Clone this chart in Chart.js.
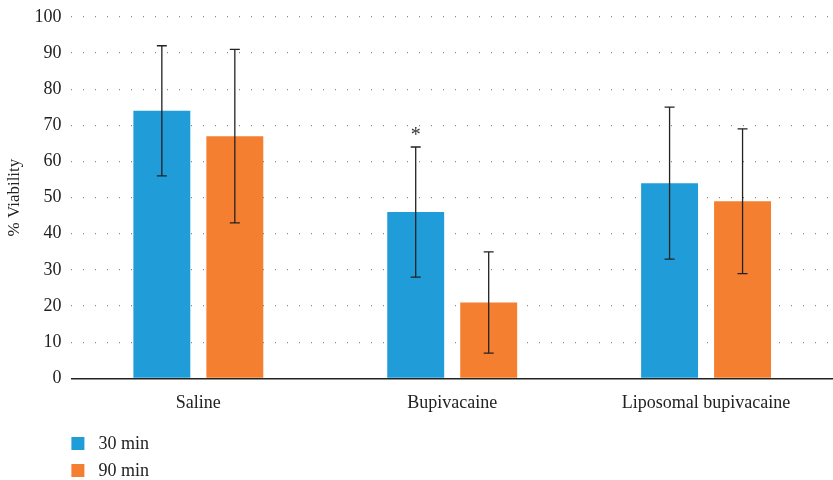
<!DOCTYPE html>
<html>
<head>
<meta charset="utf-8">
<script src="https://cdn.jsdelivr.net/npm/chart.js@4.4.0/dist/chart.umd.min.js"></script>
<style>
  html, body { margin: 0; padding: 0; background: #fff; overflow: hidden; }
  #wrap { width: 833px; height: 484px; margin-top: -4px; }
</style>
</head>
<body>
<div id="wrap"><canvas id="viabilityChart"></canvas></div>
<script>
// values
var categories = ["Saline", "Bupivacaine", "Liposomal bupivacaine"];
var series_labels = ["30 min", "90 min"];
var viability_30 = [74, 46, 54];
var viability_90 = [67, 21, 49];
var err_30 = [18, 18, 21];   // +/- half-range of error bars
var err_90 = [24, 14, 20];
var significant_30 = [false, true, false];  // asterisk marks
var y_ticks = [0, 10, 20, 30, 40, 50, 60, 70, 80, 90, 100];

var blue = "#209dd8";
var orange = "#f47f30";
var serif = "'Liberation Serif', 'DejaVu Serif', serif";

// error bars + asterisk
var errorBarPlugin = {
    id: 'errorBars',
    afterDatasetsDraw: function (chart) {
        var ctx = chart.ctx;
        var yScale = chart.scales.y;
        var errs = [err_30, err_90];
        ctx.save();
        ctx.strokeStyle = "#222";
        ctx.lineWidth = 1.3;
        chart.data.datasets.forEach(function (ds, i) {
            var meta = chart.getDatasetMeta(i);
            meta.data.forEach(function (bar, j) {
                var v = ds.data[j];
                var top = yScale.getPixelForValue(v + errs[i][j]);
                var bot = yScale.getPixelForValue(v - errs[i][j]);
                var x = bar.x;
                ctx.beginPath();
                ctx.moveTo(x, top); ctx.lineTo(x, bot);
                ctx.moveTo(x - 5, top); ctx.lineTo(x + 5, top);
                ctx.moveTo(x - 5, bot); ctx.lineTo(x + 5, bot);
                ctx.stroke();
                if (i === 0 && significant_30[j]) {
                    ctx.fillStyle = "#333";
                    ctx.font = "20px " + serif;
                    ctx.textAlign = "center";
                    ctx.textBaseline = "bottom";
                    ctx.fillText("*", x, top - 1);
                }
            });
        });
        ctx.restore();
    }
};

// vertical legend under the x axis, bottom left
var stackedLegendPlugin = {
    id: 'stackedLegend',
    afterDraw: function (chart) {
        var ctx = chart.ctx;
        var left = chart.chartArea.left;
        ctx.save();
        ctx.font = "18px " + serif;
        ctx.textBaseline = "middle";
        ctx.textAlign = "left";
        chart.data.datasets.forEach(function (ds, i) {
            var cy = 447 + i * 27;
            ctx.fillStyle = ds.backgroundColor;
            ctx.fillRect(left, cy - 6, 13, 13);
            ctx.fillStyle = "#222";
            ctx.fillText(ds.label, left + 27, cy + 1);
        });
        ctx.restore();
    }
};

new Chart(document.getElementById('viabilityChart'), {
    type: 'bar',
    data: {
        labels: categories,
        datasets: [
            { label: series_labels[0], data: viability_30, backgroundColor: blue },
            { label: series_labels[1], data: viability_90, backgroundColor: orange }
        ]
    },
    options: {
        responsive: true,
        maintainAspectRatio: false,
        animation: false,
        categoryPercentage: 0.575,
        barPercentage: 0.78,
        layout: { padding: { top: 0, right: 0, bottom: 60, left: 4 } },
        plugins: {
            legend: { display: false },
            tooltip: { enabled: false }
        },
        scales: {
            x: {
                grid: { display: false },
                border: { display: true, color: "#222", width: 1.5 },
                ticks: { color: "#222", font: { family: serif, size: 18 }, padding: 6 }
            },
            y: {
                min: 0,
                max: 100,
                afterBuildTicks: function (axis) {
                    axis.ticks = y_ticks.map(function (v) { return { value: v }; });
                },
                border: { display: false, dash: [1, 11] },
                grid: {
                    drawTicks: false,
                    lineWidth: 1.2,
                    color: function (c) { return c.tick && c.tick.value === 0 ? "rgba(0,0,0,0)" : "#888"; }
                },
                ticks: { color: "#222", font: { family: serif, size: 18 }, padding: 10 },
                title: {
                    display: true,
                    text: "% Viability",
                    color: "#222",
                    font: { family: serif, size: 17 },
                    padding: { top: 0, bottom: 0 }
                }
            }
        }
    },
    plugins: [errorBarPlugin, stackedLegendPlugin]
});
</script>
</body>
</html>
